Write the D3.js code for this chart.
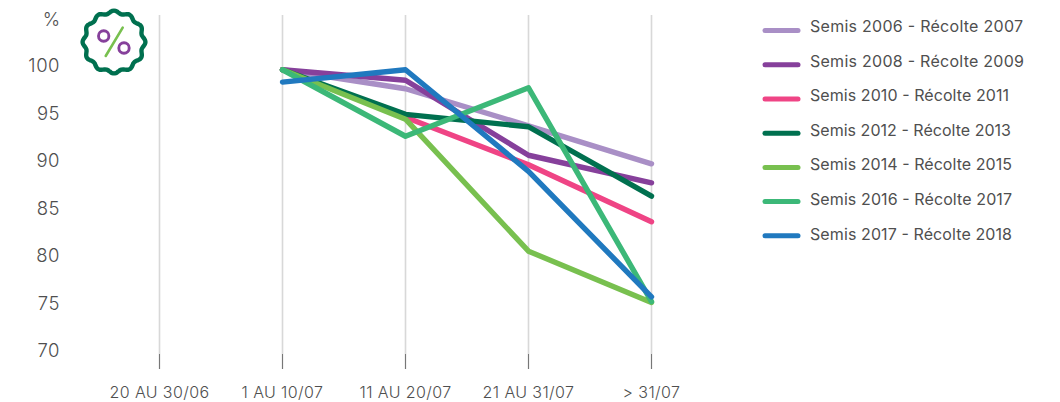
<!DOCTYPE html>
<html><head><meta charset="utf-8">
<script src="https://cdnjs.cloudflare.com/ajax/libs/d3/7.8.5/d3.min.js"></script>
<style>html,body{margin:0;padding:0;background:#fff}svg{display:block}text{font-family:Inter,"Noto Sans",sans-serif;fill:#4f4f4f}</style>
</head><body><div id="c"></div>
<script>
const categories=["20 AU 30/06","1 AU 10/07","11 AU 20/07","21 AU 31/07","> 31/07"];
const yTicks=[70,75,80,85,90,95,100];
const seriesNames=["Semis 2006 - Récolte 2007","Semis 2008 - Récolte 2009","Semis 2010 - Récolte 2011","Semis 2012 - Récolte 2013","Semis 2014 - Récolte 2015","Semis 2016 - Récolte 2017","Semis 2017 - Récolte 2018"];
const colors=["#a98fc6","#86409b","#ef4485","#00704f","#78c04f","#3cb878","#2079bf"];
const s2006=[null,99.5,97.5,93.6,89.6];
const s2008=[null,99.5,98.4,90.5,87.6];
const s2010=[null,99.5,94.5,89.5,83.5];
const s2012=[null,99.5,94.8,93.5,86.2];
const s2014=[null,99.5,94.3,80.4,75.0];
const s2016=[null,99.5,92.5,97.6,75.1];
const s2017=[null,98.2,99.5,88.8,75.6];
const seriesValues=[s2006,s2008,s2010,s2012,s2014,s2016,s2017];

const svg=d3.select("#c").append("svg").attr("width",1060).attr("height",402);
const x=d3.scalePoint().domain(categories).range([159.5,651.5]);
const y=d3.scaleLinear().domain([70,100]).range([350,65]);

svg.append("g").selectAll("line").data(categories).join("line")
  .attr("x1",d=>x(d)).attr("x2",d=>x(d)).attr("y1",15).attr("y2",354)
  .attr("stroke","#d8d8d8").attr("stroke-width",1.6);
svg.append("g").selectAll("line").data(categories).join("line")
  .attr("x1",d=>x(d)).attr("x2",d=>x(d)).attr("y1",354).attr("y2",369)
  .attr("stroke","#777").attr("stroke-width",1.2);
svg.append("g").selectAll("text").data(categories).join("text")
  .attr("x",d=>x(d)).attr("y",398).attr("text-anchor","middle")
  .attr("font-size",16).attr("font-weight",300).attr("letter-spacing",0.4).text(d=>d);
svg.append("g").selectAll("text").data(yTicks).join("text")
  .attr("x",60).attr("y",d=>y(d)+7).attr("text-anchor","end")
  .attr("font-size",18.5).attr("font-weight",300).attr("letter-spacing",0.5).text(d=>d);
svg.append("text").attr("x",60).attr("y",26).attr("text-anchor","end").attr("font-size",18.5).attr("font-weight",300).text("%");

const line=d3.line().defined(d=>d!=null).x((d,i)=>x(categories[i])).y(d=>y(d));
svg.append("g").selectAll("path").data(seriesValues).join("path")
  .attr("d",line).attr("fill","none")
  .attr("stroke",(d,i)=>colors[i]).attr("stroke-width",5.4)
  .attr("stroke-linecap","round").attr("stroke-linejoin","round");

const lg=svg.append("g").selectAll("g").data(seriesNames).join("g");
lg.append("line").attr("x1",765).attr("x2",798)
  .attr("y1",(d,i)=>30.6+i*34.2).attr("y2",(d,i)=>30.6+i*34.2)
  .attr("stroke",(d,i)=>colors[i]).attr("stroke-width",5).attr("stroke-linecap","round");
const legendEnds=[1023,1024,1009,1011,1012,1012,1012];
lg.append("text").attr("x",810).attr("y",(d,i)=>32+i*34.6)
  .attr("font-size",16).attr("font-weight",400)
  .attr("textLength",(d,i)=>legendEnds[i]-810).attr("lengthAdjust","spacing").text(d=>d);

const badge=svg.append("g").attr("transform","translate(114,42)");
const pts=d3.range(0,360,3).map(a=>{const t=a*Math.PI/180;const r=30+1.4*Math.cos(12*t);return [r*Math.sin(t),-r*Math.cos(t)];});
badge.append("path").attr("d",d3.line().curve(d3.curveCardinalClosed)(pts)).attr("fill","#fff").attr("stroke","#00704f").attr("stroke-width",4.4);
badge.append("line").attr("x1",8.7).attr("y1",-14.3).attr("x2",-8.3).attr("y2",14).attr("stroke","#78c04f").attr("stroke-width",2.6).attr("stroke-linecap","round");
badge.append("circle").attr("cx",-10.3).attr("cy",-6).attr("r",5.2).attr("fill","none").attr("stroke","#86409b").attr("stroke-width",2.9);
badge.append("circle").attr("cx",10).attr("cy",6).attr("r",5.2).attr("fill","none").attr("stroke","#86409b").attr("stroke-width",2.9);
</script></body></html>
